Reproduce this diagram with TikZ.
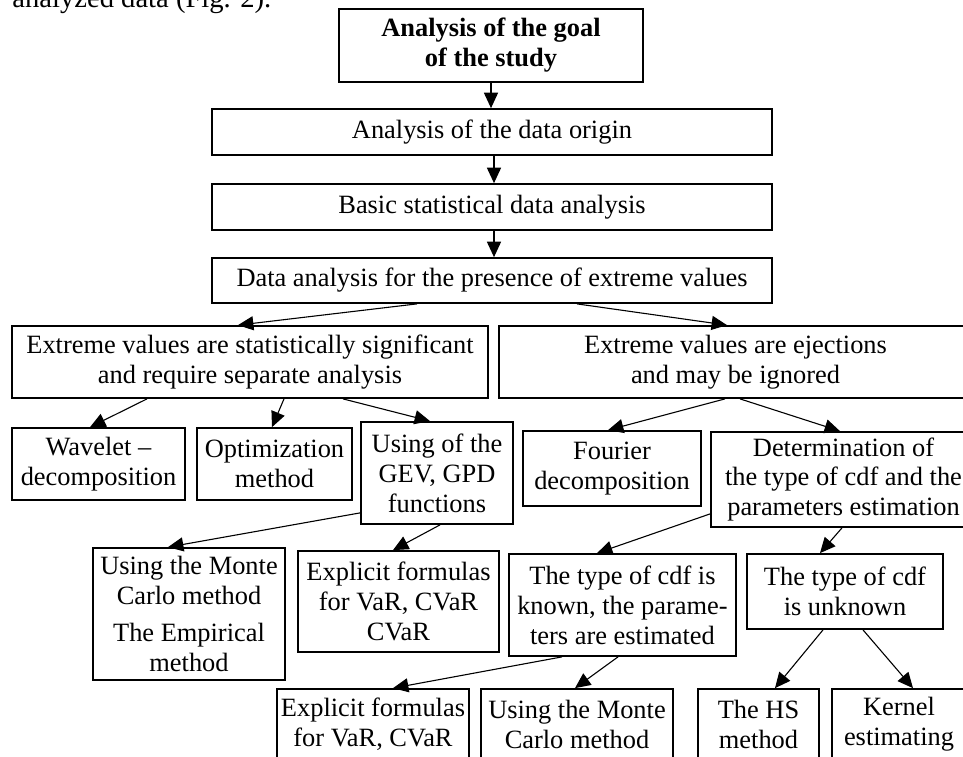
\documentclass[tikz,border=0pt]{standalone}
\usepackage{fontspec}
\setmainfont{Liberation Serif}
\usetikzlibrary{arrows.meta,calc}
\tikzset{
  box/.style={draw, line width=0.8pt, align=center, inner sep=0pt,
    font=\fontsize{12}{13.6}\selectfont},
  sz/.style 2 args={minimum width=#1*0.4545pt, minimum height=#2*0.4545pt},
  arr/.style={-{Triangle[length=7pt,width=6.4pt]}, line width=0.5pt}
}

\begin{document}
\begin{tikzpicture}[x=0.4545pt, y=-0.4545pt]
  \useasboundingbox (0,0) rectangle (963,756);
  \clip (0,0) rectangle (963,756);
  % line of the text above the figure
  \node[anchor=base west, inner sep=0pt, font=\fontsize{13}{15}\selectfont] (prev) at (12,7) {analyzed data (Fig. 2).};
  % main chain
  \node[box, sz={304}{73}, font=\fontsize{12}{13.6}\selectfont\bfseries] (goal) at (491,45.5) {Analysis of the goal\\of the study};
  \node[box, sz={560}{46}] (origin) at (492,132) {Analysis of the data origin};
  \node[box, sz={560}{46}] (basic) at (492,207) {Basic statistical data analysis};
  \node[box, sz={560}{45}] (extreme) at (492,280.5) {Data analysis for the presence of extreme values};
  % two branches
  \node[box, sz={476}{72}] (signif) at (250,362) {Extreme values are statistically significant\\and require separate analysis};
  \node[box, sz={473}{72}] (eject) at (735.5,362) {Extreme values are ejections\\and may be ignored};
  % methods
  \node[box, sz={173}{72}] (wavelet) at (98.5,464) {Wavelet --\\decomposition};
  \node[box, sz={155}{72}] (optim) at (274.5,464) {Optimization\\method};
  \node[box, sz={152}{102}] (gev) at (437,473) {Using of the\\GEV, GPD\\functions};
  \node[box, sz={178}{75}] (fourier) at (612,468.5) {Fourier\\decomposition};
  \node[box, sz={265}{95}] (determ) at (843.5,479.5) {Determination of\\the type of cdf and the\\parameters estimation};
  \node[box, sz={192}{132}] (mcA) at (189,614) {Using the Monte\\Carlo method\\[3pt]The Empirical\\method};
  \node[box, sz={201}{101}] (explA) at (398.5,601.5) {Explicit formulas\\for VaR, CVaR\\CVaR};
  \node[box, sz={227}{102}] (known) at (622.5,605) {The type of cdf is\\known, the parame-\\ters are estimated};
  \node[box, sz={196}{75}] (unknown) at (845,591.5) {The type of cdf\\is unknown};
  % bottom row
  \node[box, sz={192}{70}] (explB) at (373,724) {Explicit formulas\\for VaR, CVaR};
  \node[box, sz={192}{70}] (mcB) at (577,724) {Using the Monte\\Carlo method};
  \node[box, sz={121}{70}] (hs) at (758.5,724) {The HS\\method};
  \node[box, sz={134}{70}] (kernel) at (899,724) {Kernel\\estimating};

  \draw[arr] (goal.south) -- (goal.south |- origin.north);
  \draw[arr] ($(origin.south)+(2,0)$) -- ($(basic.north)+(2,0)$);
  \draw[arr] ($(basic.south)+(2,0)$) -- ($(extreme.north)+(2,0)$);
  \draw[arr] ($(extreme.south)+(-75,0)$) -- ($(signif.north)+(-12,0)$);
  \draw[arr] ($(extreme.south)+(85,0)$) -- ($(eject.north)+(-8.5,0)$);
  \draw[arr] ($(signif.south)+(-103,0)$) -- ($(wavelet.north)+(-8.5,0)$);
  \draw[arr] ($(signif.south)+(34,0)$) -- ($(optim.north)+(-2.5,0)$);
  \draw[arr] ($(signif.south)+(93,0)$) -- ($(gev.north)+(-7,0)$);
  \draw[arr] ($(eject.south)+(-10.5,0)$) -- ($(fourier.north)+(-4,0)$);
  \draw[arr] ($(eject.south)+(4.5,0)$) -- ($(determ.north)+(-3.5,0)$);
  \draw[arr] ($(gev.south west)+(0,-12)$) -- ($(mcA.north)+(-21,0)$);
  \draw[arr] ($(gev.south)+(3,0)$) -- ($(explA.north)+(-5.5,0)$);
  \draw[arr] ($(determ.south west)+(0,-14)$) -- ($(known.north)+(-25.5,0)$);
  \draw[arr] ($(determ.south)+(-1.5,0)$) -- ($(unknown.north)+(-25,0)$);
  \draw[arr] ($(known.south)+(-60.5,0)$) -- ($(explB.north)+(20,0)$);
  \draw[arr] ($(known.south)+(-4.5,0)$) -- ($(mcB.north)+(-2,0)$);
  \draw[arr] ($(unknown.south)+(-22,0)$) -- ($(hs.north)+(16.5,0)$);
  \draw[arr] ($(unknown.south)+(18,0)$) -- ($(kernel.north)+(14,0)$);
\end{tikzpicture}
\end{document}
